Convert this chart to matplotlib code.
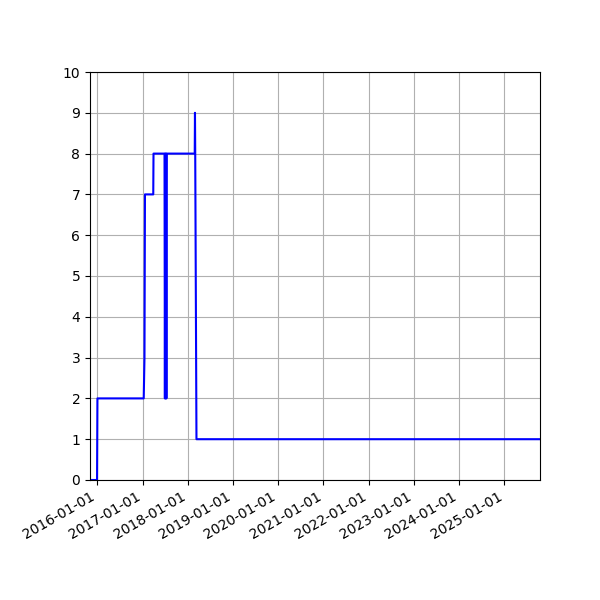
import matplotlib
matplotlib.use("Agg")
import matplotlib.pyplot as plt
import matplotlib.dates as mdates
import numpy as np
import pandas as pd

# change points of the count over time
dates = [
    "2015-11-03", "2015-12-30", "2016-01-02",
    "2017-01-10", "2017-01-16", "2017-01-20",
    "2017-03-28", "2017-03-30",
    "2017-06-27", "2017-06-30", "2017-07-03", "2017-07-06", "2017-07-09",
    "2017-07-12", "2017-07-15", "2017-07-17",
    "2018-02-26", "2018-02-28", "2018-03-02", "2018-03-12",
    "2025-10-16",
]
values = [
    0, 0, 2,
    2, 3, 7,
    7, 8,
    8, 2, 8, 2, 8,
    2, 8, 8,
    8, 9, 8, 1,
    1,
]

x = pd.to_datetime(dates)

fig, ax = plt.subplots(figsize=(6, 6), dpi=100)
fig.subplots_adjust(left=0.15, right=0.9, top=0.88, bottom=0.2)

ax.plot(x, values, color="blue")
ax.set_xlim(x[0], x[-1])
ax.set_ylim(0, 10)
ax.set_yticks(np.arange(0, 11, 1))

ax.xaxis.set_major_locator(mdates.YearLocator())
ax.xaxis.set_major_formatter(mdates.DateFormatter("%Y-%m-%d"))
ax.grid(True)

for lbl in ax.get_xticklabels():
    lbl.set_rotation(30)
    lbl.set_ha("right")

fig.savefig("out.png", dpi=100)
